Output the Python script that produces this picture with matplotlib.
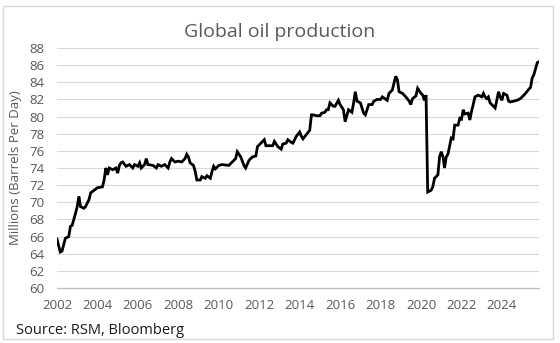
import pandas as pd
import numpy as np
import matplotlib.pyplot as plt
import matplotlib.dates as mdates
from matplotlib.patches import Rectangle

plt.rcParams["font.family"] = ["Open Sans", "DejaVu Sans"]

# monthly readings (approx.) of global oil production, millions of barrels per day
months = ["2002-01", "2002-03", "2002-04", "2002-06", "2002-08", "2002-09", "2002-10", "2002-12",
          "2003-01", "2003-02", "2003-03", "2003-05", "2003-06", "2003-08", "2003-09", "2003-11",
          "2004-01", "2004-04", "2004-05", "2004-06", "2004-07", "2004-08", "2004-10", "2004-12",
          "2005-01", "2005-02", "2005-03", "2005-04", "2005-06", "2005-08", "2005-10", "2005-11",
          "2006-01", "2006-02", "2006-03", "2006-05", "2006-06", "2006-07", "2006-10", "2006-12",
          "2007-01", "2007-03", "2007-05", "2007-07", "2007-08", "2007-09", "2007-11",
          "2008-01", "2008-03", "2008-05", "2008-06", "2008-07", "2008-08", "2008-10", "2008-11", "2008-12",
          "2009-02", "2009-03", "2009-05", "2009-06", "2009-08", "2009-09", "2009-10", "2009-11",
          "2010-01", "2010-03", "2010-07", "2010-09", "2010-11", "2010-12",
          "2011-02", "2011-04", "2011-05", "2011-07", "2011-09", "2011-11", "2011-12",
          "2012-02", "2012-04", "2012-05", "2012-07", "2012-09", "2012-10", "2012-12",
          "2013-02", "2013-03", "2013-05", "2013-06", "2013-08", "2013-09", "2013-11",
          "2014-01", "2014-02", "2014-03", "2014-05", "2014-07", "2014-08", "2014-09", "2014-11",
          "2015-01", "2015-02", "2015-04", "2015-05", "2015-06", "2015-07", "2015-09", "2015-10", "2015-12",
          "2016-01", "2016-03", "2016-04", "2016-06", "2016-08", "2016-09", "2016-10", "2016-11",
          "2017-01", "2017-03", "2017-04", "2017-06", "2017-08", "2017-09", "2017-11",
          "2018-01", "2018-02", "2018-05", "2018-06", "2018-08", "2018-09", "2018-10", "2018-11", "2018-12",
          "2019-02", "2019-04", "2019-06", "2019-07", "2019-08", "2019-10", "2019-11",
          "2020-01", "2020-02", "2020-03", "2020-04", "2020-05", "2020-07", "2020-08", "2020-09", "2020-11", "2020-12",
          "2021-01", "2021-02", "2021-03", "2021-04", "2021-05", "2021-07", "2021-08", "2021-09", "2021-11", "2021-12",
          "2022-01", "2022-02", "2022-03", "2022-05", "2022-06", "2022-07", "2022-08", "2022-09", "2022-11",
          "2023-01", "2023-02", "2023-03", "2023-04", "2023-05", "2023-06", "2023-08", "2023-09", "2023-10", "2023-11", "2023-12",
          "2024-01", "2024-02", "2024-04", "2024-05", "2024-06", "2024-08", "2024-10", "2024-12",
          "2025-02", "2025-03", "2025-05", "2025-06", "2025-07", "2025-08", "2025-09", "2025-10", "2025-11"]

production = [65.7, 64.2, 64.3, 65.8, 66.0, 67.2, 67.3, 68.7,
              69.5, 70.7, 69.5, 69.3, 69.5, 70.3, 71.1, 71.4,
              71.7, 71.8, 72.6, 74.0, 73.2, 74.0, 73.8, 74.0,
              73.4, 74.3, 74.6, 74.7, 74.2, 74.4, 74.0, 74.4,
              74.2, 74.6, 74.0, 74.4, 75.1, 74.4, 74.3, 74.0,
              74.4, 74.2, 74.4, 74.0, 74.7, 75.1, 74.7,
              74.8, 74.7, 75.1, 75.6, 75.3, 74.6, 74.3, 73.6, 72.6,
              72.6, 73.0, 72.8, 73.1, 72.8, 73.6, 74.2, 73.9,
              74.3, 74.4, 74.3, 74.7, 75.1, 75.9,
              75.3, 74.3, 74.0, 74.9, 75.3, 75.4, 76.5,
              76.9, 77.3, 76.6, 76.6, 76.6, 77.1, 76.5,
              76.2, 76.8, 76.9, 77.3, 77.0, 76.9, 77.7,
              78.2, 77.7, 77.4, 77.9, 78.4, 80.2, 80.2, 80.1,
              80.1, 80.4, 80.5, 80.8, 80.8, 81.6, 81.2, 81.2, 81.9,
              81.4, 80.8, 79.4, 80.8, 80.5, 81.6, 82.9, 81.8,
              81.6, 80.4, 80.2, 81.4, 81.4, 81.8, 82.0,
              82.0, 82.3, 81.9, 82.7, 83.1, 83.9, 84.7, 84.3, 82.9,
              82.7, 82.3, 81.8, 81.4, 82.1, 82.4, 83.3,
              82.7, 82.5, 81.9, 82.5, 71.2, 71.4, 71.8, 72.8, 73.2, 75.3,
              75.9, 75.3, 74.0, 75.3, 75.6, 77.5, 77.4, 79.0, 79.0, 79.8,
              79.7, 80.8, 80.3, 80.4, 79.6, 80.6, 81.4, 82.3, 82.5,
              82.3, 82.7, 82.3, 82.1, 82.3, 81.6, 81.2, 81.0, 81.9, 82.9, 82.3,
              81.9, 82.7, 82.5, 81.8, 81.7, 81.8, 81.9, 82.1,
              82.5, 82.7, 83.2, 83.4, 84.5, 84.9, 85.6, 86.3, 86.4]

year_ticks = list(range(2002, 2026, 2))
y_ticks = list(range(60, 90, 2))

dates = pd.to_datetime(months)

fig = plt.figure(figsize=(5.6, 3.43), dpi=100)
ax = fig.add_axes([57 / 560, 1 - 288 / 343, (539 - 57) / 560, 240 / 343])

# chart border
fig.patches.append(Rectangle((3 / 560, 1 - 339 / 343), 550 / 560, 333 / 343,
                             transform=fig.transFigure, fill=False,
                             edgecolor="#d9d9d9", linewidth=1.0))

ax.plot(dates, production, color="black", linewidth=2.0, solid_joinstyle="miter")

ax.set_ylim(60, 88)
ax.set_yticks(y_ticks)
ax.set_xlim(pd.Timestamp("2002-01-01"), pd.Timestamp("2025-11-01"))
ax.set_xticks([pd.Timestamp(f"{y}-01-01") for y in year_ticks])
ax.xaxis.set_major_formatter(mdates.DateFormatter("%Y"))

ax.grid(axis="y", color="#d9d9d9", linewidth=0.8)
ax.set_axisbelow(True)
for s in ["top", "right", "left"]:
    ax.spines[s].set_visible(False)
ax.spines["bottom"].set_color("#bfbfbf")
ax.spines["bottom"].set_linewidth(0.9)
ax.tick_params(axis="both", length=0, labelsize=9.5, labelcolor="#595959")
ax.tick_params(axis="x", pad=8)
ax.tick_params(axis="y", pad=9)

fig.text(0.5, 1 - 32 / 343, "Global oil production", ha="center", va="center",
         fontsize=14, color="#595959")
fig.text(16 / 560, 1 - 168 / 343, "Millions (Barrels Per Day)", rotation=90,
         ha="center", va="center", fontsize=9.5, color="#595959")
fig.text(16 / 560, 1 - 331 / 343, "Source: RSM, Bloomberg", ha="left", va="center",
         fontsize=10.5, color="#1a1a1a")

fig.savefig("out.png", dpi=100)
